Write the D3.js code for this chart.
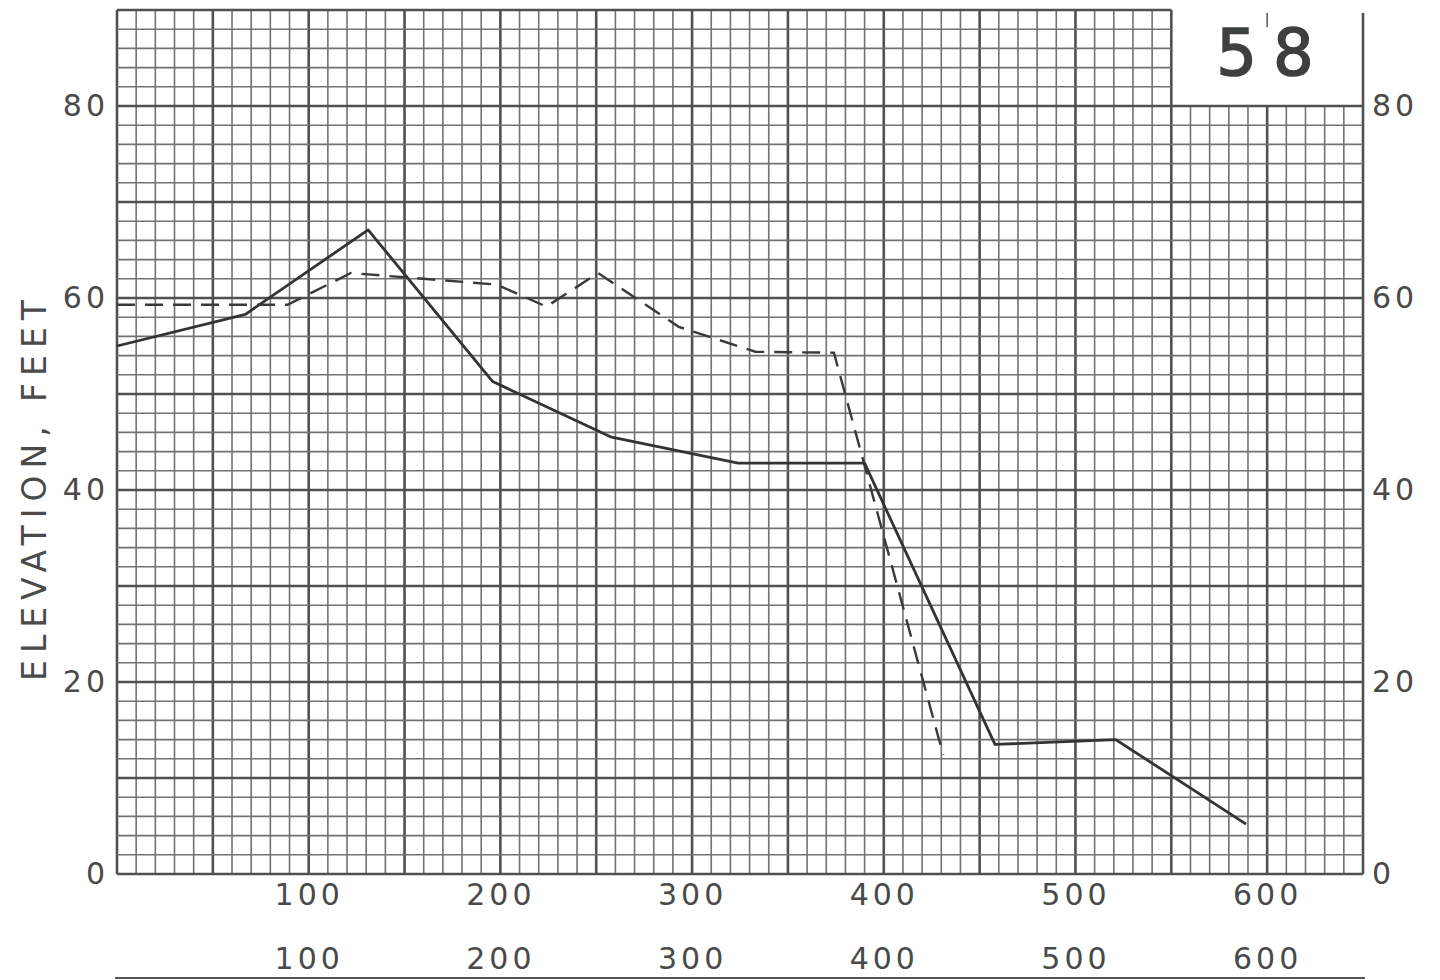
<!DOCTYPE html>
<html>
<head>
<meta charset="utf-8">
<script src="https://cdn.jsdelivr.net/npm/d3@7"></script>
<style>
    body { margin: 0; background: #fff; }
    text { font-family: "DejaVu Sans", "Noto Sans", sans-serif; fill: #4a4a4a; }
</style>
</head>
<body>
<script>
// profile, solid line
const solidDist = [0, 67, 131, 196, 258, 324, 390, 458, 521, 589];
const solidElev = [55.0, 58.3, 67.1, 51.3, 45.5, 42.8, 42.8, 13.5, 14.0, 5.2];

// profile, dashed line
const dashDist = [0, 89, 122, 198, 224, 251, 293, 333, 374, 431];
const dashElev = [59.3, 59.3, 62.6, 61.4, 59.1, 62.6, 57.0, 54.4, 54.3, 12.4];

const yTicks = [0, 20, 40, 60, 80];
const xTicks = [100, 200, 300, 400, 500, 600];
const sheetNumber = '58';

const margin = { top: 10, right: 77, bottom: 106, left: 117 };
const width = 1440 - margin.left - margin.right;
const height = 980 - margin.top - margin.bottom;

const svg = d3.select('body').append('svg')
    .attr('width', 1440)
    .attr('height', 980)

const g = svg.append('g')
    .attr('transform', `translate(${margin.left}, ${margin.top})`)

const xScale = d3.scaleLinear()
    .domain([0, 650])
    .range([0, width])

const yScale = d3.scaleLinear()
    .domain([0, 90])
    .range([height, 0])

// graph paper grid, blank box top right for the sheet number
const gridV = d3.range(0, 651, 10).map(v => ({
    v,
    major: v % 50 === 0,
    top: (v > 550 && v < 650) ? 80 : 90
}));
const gridH = d3.range(0, 91, 2).map(v => ({
    v,
    major: v % 10 === 0,
    right: v > 80 ? 550 : 650
}));

const grid = g.append('g').attr('class', 'grid');

grid.selectAll('line.v').data(gridV).join('line')
    .attr('class', 'v')
    .attr('x1', d => xScale(d.v))
    .attr('x2', d => xScale(d.v))
    .attr('y1', yScale(0))
    .attr('y2', d => d.v === 650 ? yScale(89.7) : yScale(d.top))
    .attr('stroke', d => d.major ? '#505050' : '#727272')
    .attr('stroke-width', d => d.major ? 2.6 : 1.6)

grid.selectAll('line.h').data(gridH).join('line')
    .attr('class', 'h')
    .attr('x1', xScale(0))
    .attr('x2', d => xScale(d.right))
    .attr('y1', d => yScale(d.v))
    .attr('y2', d => yScale(d.v))
    .attr('stroke', d => d.major ? '#505050' : '#727272')
    .attr('stroke-width', d => d.major ? 2.6 : 1.6)

// little tick at 600 above the box
grid.append('line')
    .attr('x1', xScale(600)).attr('x2', xScale(600))
    .attr('y1', yScale(89.7)).attr('y2', yScale(88.2))
    .attr('stroke', '#555').attr('stroke-width', 1.5)

// sheet number
g.append('text')
    .attr('x', xScale(603))
    .attr('y', yScale(83.2))
    .attr('text-anchor', 'middle')
    .attr('font-size', 64)
    .attr('letter-spacing', 16)
    .attr('stroke', '#3c403e')
    .attr('stroke-width', 1.6)
    .style('fill', '#3c403e')
    .text(sheetNumber)

// axes
const styleAxis = sel => {
    sel.select('.domain').remove();
    sel.selectAll('text')
        .attr('font-size', 30)
        .attr('letter-spacing', 4)
        .style('fill', '#4a4a4a');
}

g.append('g')
    .call(d3.axisLeft(yScale).tickValues(yTicks).tickSize(0).tickPadding(8).tickFormat(d3.format('d')))
    .call(styleAxis)

g.append('g')
    .attr('transform', `translate(${width}, 0)`)
    .call(d3.axisRight(yScale).tickValues(yTicks).tickSize(0).tickPadding(9).tickFormat(d3.format('d')))
    .call(styleAxis)

g.append('g')
    .attr('transform', `translate(0, ${height})`)
    .call(d3.axisBottom(xScale).tickValues(xTicks).tickSize(0).tickPadding(10).tickFormat(d3.format('d')))
    .call(styleAxis)

g.append('g')
    .attr('transform', `translate(0, ${height})`)
    .call(d3.axisBottom(xScale).tickValues(xTicks).tickSize(0).tickPadding(74).tickFormat(d3.format('d')))
    .call(styleAxis)

// rule under the second row of labels
g.append('line')
    .attr('x1', xScale(-1)).attr('x2', xScale(651))
    .attr('y1', height + 104).attr('y2', height + 104)
    .attr('stroke', '#555').attr('stroke-width', 2)

svg.append('text')
    .attr('transform', `translate(46, ${margin.top + yScale(40) - 3}) rotate(-90)`)
    .attr('text-anchor', 'middle')
    .attr('font-size', 33)
    .attr('letter-spacing', 7)
    .text('ELEVATION, FEET')

// profiles
const line = d3.line()
    .x(d => xScale(d[0]))
    .y(d => yScale(d[1]))

g.append('path')
    .datum(d3.zip(dashDist, dashElev))
    .attr('d', line)
    .attr('fill', 'none')
    .attr('stroke', '#3a3a3a')
    .attr('stroke-width', 2.4)
    .attr('stroke-dasharray', '18,10')

g.append('path')
    .datum(d3.zip(solidDist, solidElev))
    .attr('d', line)
    .attr('fill', 'none')
    .attr('stroke', '#333')
    .attr('stroke-width', 2.8)
    .attr('stroke-linejoin', 'round')
</script>
</body>
</html>
